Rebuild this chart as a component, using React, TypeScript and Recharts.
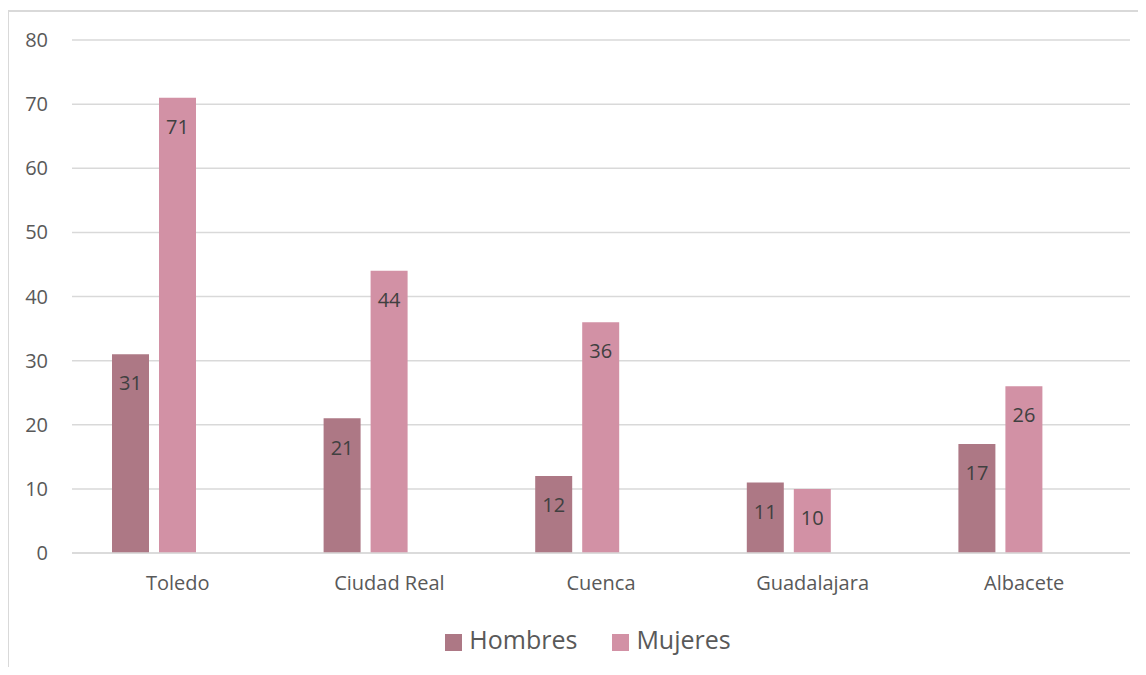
import { BarChart, Bar, XAxis, YAxis, CartesianGrid, Legend, LabelList } from "recharts";

const provincias = ["Toledo", "Ciudad Real", "Cuenca", "Guadalajara", "Albacete"];
const hombres = [31, 21, 12, 11, 17];
const mujeres = [71, 44, 36, 10, 26];
const yTicks = [0, 10, 20, 30, 40, 50, 60, 70, 80];

const data = provincias.map((p, i) => ({
  provincia: p,
  Hombres: hombres[i],
  Mujeres: mujeres[i],
}));

const TEXT = "#595959";
const GRID = "#d9d9d9";
const FONT = "'Open Sans', 'Noto Sans', sans-serif";

export default function App() {
  return (
    <div style={{ position: "relative", width: 1146, height: 675, margin: -8, overflow: "hidden", background: "#fff", fontFamily: FONT }}>
      <div style={{ position: "absolute", left: 7, top: 10, width: 1200, height: 720, border: `2px solid ${GRID}`, boxSizing: "border-box" }} />
      <div style={{ position: "absolute", left: 0, top: 0 }}>
        <BarChart
          width={1146}
          height={675}
          data={data}
          margin={{ top: 6, right: 16, left: 0, bottom: 0 }}
          barSize={37}
          barGap={10}
        >
          <CartesianGrid vertical={false} stroke={GRID} strokeWidth={1.5} />
          <XAxis
            dataKey="provincia"
            height={122}
            axisLine={{ stroke: GRID, strokeWidth: 1.5 }}
            tickLine={false}
            tickSize={0}
            tickMargin={23}
            tick={{ fill: TEXT, fontSize: 20, fontFamily: FONT }}
            interval={0}
          />
          <YAxis
            width={72}
            domain={[0, 80]}
            ticks={yTicks}
            axisLine={false}
            tickLine={false}
            tickSize={0}
            tickMargin={24}
            tick={{ fill: TEXT, fontSize: 20, fontFamily: FONT }}
          />
          <Legend
            iconType="square"
            iconSize={17}
            verticalAlign="top"
            wrapperStyle={{ top: 622, left: 0, width: 1211, fontSize: 25, fontFamily: FONT }}
            formatter={(v: string) => <span style={{ color: TEXT, marginLeft: 3, marginRight: 25 }}>{v}</span>}
          />
          <Bar dataKey="Hombres" fill="#ad7885" isAnimationActive={false}>
            <LabelList dataKey="Hombres" position="insideTop" offset={22} fill="#404040" fontSize={20} fontFamily={FONT} />
          </Bar>
          <Bar dataKey="Mujeres" fill="#d291a5" isAnimationActive={false}>
            <LabelList dataKey="Mujeres" position="insideTop" offset={22} fill="#404040" fontSize={20} fontFamily={FONT} />
          </Bar>
          <Bar dataKey="sinDato" fill="#cccccc" legendType="none" isAnimationActive={false} />
        </BarChart>
      </div>
    </div>
  );
}
